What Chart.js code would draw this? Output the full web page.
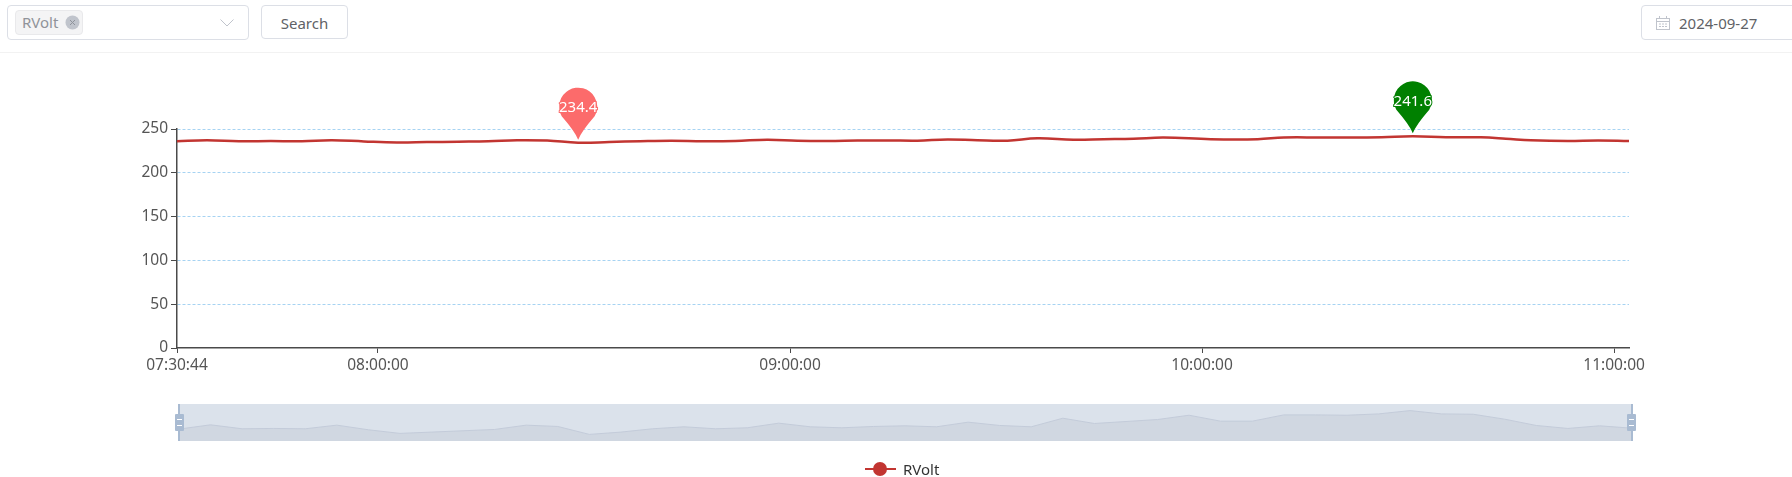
<!DOCTYPE html>
<html>
<head>
<meta charset="utf-8">
<title>RVolt</title>
<script src="https://cdn.jsdelivr.net/npm/chart.js@4/dist/chart.umd.min.js"></script>
<style>
    html, body { margin: 0; padding: 0; background: #fff; width: 1792px; height: 477px; overflow: hidden; }
    body { position: relative; font-family: "Noto Sans", sans-serif; font-size: 15px; color: #606266; }
    .abs { position: absolute; box-sizing: border-box; }
    .box { border: 1px solid #dcdfe6; border-radius: 4px; background: #fff; }
    .band { background: #dbe2eb; }
    .handle { background: #a9bbd2; border-radius: 1px; }
    .dash { background: #fff; }
</style>
</head>
<body>
<!-- barra superior -->
<div class="abs box" style="left:7px;top:5px;width:242px;height:35px"></div>
<div class="abs" style="left:15px;top:10px;width:68px;height:25px;background:#f4f4f5;border:1px solid #e9e9eb;border-radius:4px"></div>
<div class="abs" style="left:22px;top:11px;line-height:23px;color:#909399">RVolt</div>
<svg class="abs" style="left:65px;top:15px" width="15" height="15">
    <circle cx="7.5" cy="7.5" r="7" fill="#c0c4cc"/>
    <path d="M5 5 L10 10 M10 5 L5 10" stroke="#8f939b" stroke-width="1"/>
</svg>
<svg class="abs" style="left:219px;top:18px" width="16" height="10">
    <path d="M1.5 1.5 L8 8 L14.5 1.5" stroke="#c0c4cc" stroke-width="1" fill="none"/>
</svg>
<div class="abs box" style="left:261px;top:5px;width:87px;height:34px;text-align:center;line-height:34px">Search</div>
<div class="abs box" style="left:1641px;top:5px;width:220px;height:35px"></div>
<svg class="abs" style="left:1656px;top:16px" width="14" height="14">
    <rect x="0.5" y="2.5" width="13" height="11" fill="none" stroke="#c0c4cc"/>
    <path d="M0.5 5.5 H13.5 M3.5 0 V3 M10.5 0 V3" stroke="#c0c4cc" fill="none"/>
    <path d="M3 8 H11 M3 10.5 H11" stroke="#c0c4cc" stroke-dasharray="2 1" fill="none"/>
</svg>
<div class="abs" style="left:1679px;top:5px;line-height:36px">2024-09-27</div>
<div class="abs" style="left:0;top:52px;width:1792px;height:1px;background:#f2f2f2"></div>

<!-- grafico principal -->
<canvas id="chartVolt" class="abs" style="left:0;top:0" width="1792" height="477"></canvas>

<!-- barra de zoom -->
<div class="abs band" style="left:179px;top:404px;width:1452px;height:37px">
    <canvas id="chartZoom" style="display:block" width="1452" height="37"></canvas>
</div>
<div class="abs" style="left:178px;top:404px;width:2px;height:37px;background:#a9bbd2"></div>
<div class="abs" style="left:1631px;top:404px;width:2px;height:37px;background:#a9bbd2"></div>
<div class="abs handle" style="left:175px;top:414px;width:9px;height:17px"></div>
<div class="abs dash" style="left:177px;top:419px;width:5px;height:1px"></div>
<div class="abs dash" style="left:177px;top:425px;width:5px;height:1px"></div>
<div class="abs handle" style="left:1627px;top:414px;width:9px;height:17px"></div>
<div class="abs dash" style="left:1629px;top:419px;width:5px;height:1px"></div>
<div class="abs dash" style="left:1629px;top:425px;width:5px;height:1px"></div>

<!-- leyenda -->
<div class="abs" style="left:865px;top:468px;width:31px;height:2px;background:#c23531"></div>
<div class="abs" style="left:873px;top:462px;width:14px;height:14px;border-radius:50%;background:#c23531"></div>
<div class="abs" style="left:903px;top:458px;line-height:22px;color:#333">RVolt</div>

<script>
// ===== DATOS =====
const times = [
    "07:30:44", "07:35:05", "07:39:44", "07:44:24", "07:48:55", "07:53:18", "07:57:57", "08:02:46",
    "08:07:08", "08:11:39", "08:16:02", "08:20:15", "08:24:38", "08:29:09", "08:33:40", "08:38:11",
    "08:42:42", "08:47:22", "08:52:01", "08:56:41", "09:01:04", "09:05:26", "09:09:48", "09:14:10",
    "09:18:33", "09:22:55", "09:27:17", "09:31:40", "09:36:02", "09:41:17", "09:45:39", "09:50:02",
    "09:54:24", "10:01:15", "10:08:06", "10:11:53", "10:17:08", "10:21:39", "10:26:10", "10:30:41",
    "10:35:30", "10:40:36", "10:44:14", "10:47:53", "10:53:16", "10:57:39", "11:02:10"
];
const rVolt = [
    236.0, 237.3, 236.1, 236.2, 236.1, 237.2, 235.8, 234.7,
    235.1, 235.5, 235.9, 237.2, 236.8, 234.4, 235.1, 236.1,
    236.7, 236.1, 236.4, 237.8, 236.7, 236.4, 236.8, 237.0,
    236.7, 238.1, 237.1, 236.7, 239.3, 237.7, 238.3, 238.9,
    240.2, 238.4, 238.4, 240.3, 240.3, 240.2, 240.6, 241.6,
    240.6, 240.5, 239.0, 237.1, 236.2, 237.0, 236.3
];
const xTickTimes = ["07:30:44", "08:00:00", "09:00:00", "10:00:00", "11:00:00"];
const yTicks = [0, 50, 100, 150, 200, 250];

const palette = {
    line: "#c23531",
    grid: "#a6d3f2",
    axis: "#4a4a4a",
    label: "#555555",
    pinMin: "#fc6b6b",
    pinMax: "#008000",
    shadowFill: "#d0d7e1",
    shadowLine: "#c3cbd9"
};

function toSeconds(t) {
    const p = t.split(":").map(Number);
    return p[0] * 3600 + p[1] * 60 + p[2];
}
function toClock(s) {
    const pad = n => String(n).padStart(2, "0");
    return pad(Math.floor(s / 3600)) + ":" + pad(Math.floor(s / 60) % 60) + ":" + pad(s % 60);
}

const points = times.map((t, i) => ({ x: toSeconds(t), y: rVolt[i] }));

// ===== PINES DE MINIMO Y MAXIMO =====
function drawPin(ctx, x, y, color, text) {
    const r = 19;
    const tip = y - 3;
    const cy = tip - 33;
    const a = Math.PI / 6;
    ctx.save();
    ctx.beginPath();
    ctx.arc(x, cy, r, Math.PI - a, a);
    ctx.quadraticCurveTo(x + 3, cy + r + 6, x, tip);
    ctx.quadraticCurveTo(x - 3, cy + r + 6, x - r * Math.cos(a), cy + r * Math.sin(a));
    ctx.closePath();
    ctx.fillStyle = color;
    ctx.fill();
    ctx.font = '15px "Noto Sans", sans-serif';
    ctx.textAlign = "center";
    ctx.textBaseline = "middle";
    ctx.lineWidth = 2;
    ctx.strokeStyle = color;
    ctx.strokeText(text, x, cy + 1);
    ctx.fillStyle = "#fff";
    ctx.fillText(text, x, cy + 1);
    ctx.restore();
}

const pinPlugin = {
    id: "pins",
    afterDatasetsDraw(chart) {
        const low = Math.min(...rVolt);
        const high = Math.max(...rVolt);
        const xs = chart.scales.x;
        const ys = chart.scales.y;
        const lowPoint = points[rVolt.indexOf(low)];
        const highPoint = points[rVolt.indexOf(high)];
        drawPin(chart.ctx, xs.getPixelForValue(lowPoint.x), ys.getPixelForValue(low), palette.pinMin, low.toFixed(1));
        drawPin(chart.ctx, xs.getPixelForValue(highPoint.x), ys.getPixelForValue(high), palette.pinMax, high.toFixed(1));
    }
};

// ===== GRAFICO: RVOLT =====
new Chart(document.getElementById("chartVolt"), {
    type: "line",
    data: {
        datasets: [{
            label: "RVolt",
            data: points,
            borderColor: palette.line,
            borderWidth: 2.5,
            tension: 0.4,
            pointRadius: 0,
            fill: false
        }]
    },
    options: {
        responsive: false,
        animation: false,
        layout: { padding: { left: 0, right: 163, top: 129, bottom: 0 } },
        plugins: {
            legend: { display: false },
            tooltip: { enabled: false }
        },
        scales: {
            x: {
                type: "linear",
                min: points[0].x,
                max: points[points.length - 1].x,
                afterBuildTicks: scale => {
                    scale.ticks = xTickTimes.map(t => ({ value: toSeconds(t) }));
                },
                afterFit: scale => { scale.height = 129; },
                border: { color: palette.axis, width: 1.5 },
                grid: { drawOnChartArea: false, tickColor: palette.axis, tickLength: 5 },
                ticks: {
                    autoSkip: false,
                    maxRotation: 0,
                    padding: 3,
                    color: palette.label,
                    font: { family: '"Noto Sans", sans-serif', size: 15.5 },
                    callback: v => toClock(v)
                }
            },
            y: {
                min: yTicks[0],
                max: yTicks[yTicks.length - 1],
                afterBuildTicks: scale => {
                    scale.ticks = yTicks.map(v => ({ value: v }));
                },
                afterFit: scale => { scale.width = 177; },
                border: { color: palette.axis, width: 1.5, dash: [3, 2] },
                grid: {
                    color: ctx => ctx.tick.value === 0 ? "transparent" : palette.grid,
                    tickColor: palette.axis,
                    tickLength: 6
                },
                ticks: {
                    padding: 3,
                    color: palette.label,
                    font: { family: '"Noto Sans", sans-serif', size: 15.5 }
                }
            }
        }
    },
    plugins: [pinPlugin]
});

// ===== GRAFICO: SOMBRA DE LA BARRA DE ZOOM (por indice) =====
const low = Math.min(...rVolt);
const high = Math.max(...rVolt);
new Chart(document.getElementById("chartZoom"), {
    type: "line",
    data: {
        labels: times,
        datasets: [{
            data: rVolt,
            borderColor: palette.shadowLine,
            backgroundColor: palette.shadowFill,
            borderWidth: 1,
            tension: 0,
            pointRadius: 0,
            fill: "start"
        }]
    },
    options: {
        responsive: false,
        animation: false,
        plugins: {
            legend: { display: false },
            tooltip: { enabled: false }
        },
        scales: {
            x: { display: false },
            y: { display: false, min: low - 2, max: high + 2 }
        }
    }
});
</script>
</body>
</html>
